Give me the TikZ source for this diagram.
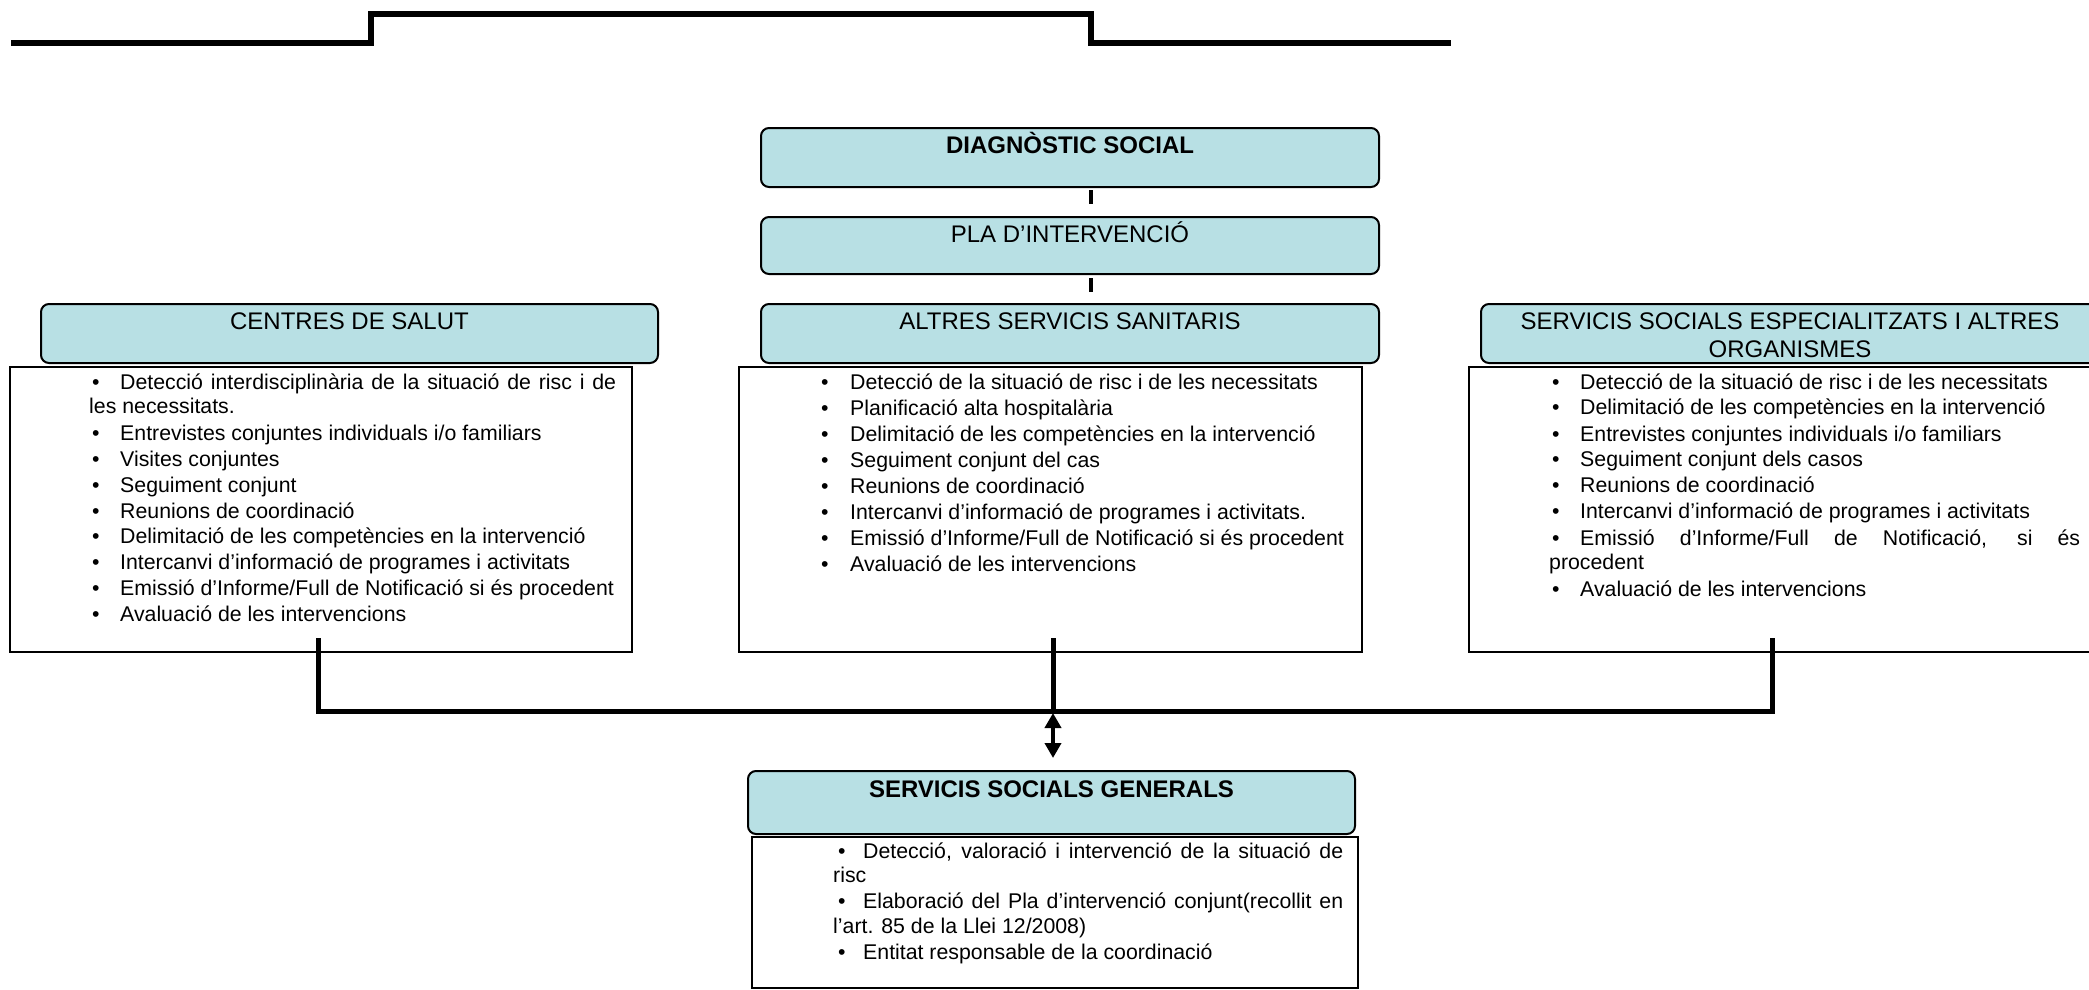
\documentclass[tikz,border=0pt]{standalone}
\usepackage{fontspec}
\setmainfont{Liberation Sans}
\usetikzlibrary{arrows.meta}
\definecolor{hdrfill}{RGB}{184,224,228}
\begin{document}
\begin{tikzpicture}[x=1pt,y=-1pt,
  hbox/.style={draw=black, line width=2pt, fill=hdrfill, rounded corners=8pt, inner sep=0pt},
  cbox/.style={draw=black, line width=2.5pt, inner sep=0pt},
  htxt/.style={anchor=base, inner sep=0pt, font=\fontsize{24}{28}\selectfont},
  itm/.style={anchor=base west, inner sep=0pt, font=\fontsize{21.3}{26}\selectfont},
  conn/.style={line width=5pt},
  stubline/.style={line width=4pt},
  topline/.style={line width=5.5pt, line join=miter},
  dblarrow/.style={line width=4pt, {Triangle[width=16pt,length=15pt]}-{Triangle[width=16pt,length=15pt]}}
]
\clip (0,0) rectangle (2089,990);
\fill[white] (0,0) rectangle (2089,990);

% top decorative line
\draw[topline] (11,43) -- (371,43) -- (371,14) -- (1091,14) -- (1091,43) -- (1451,43);

% top chain
\node[hbox, minimum width=618, minimum height=59] (diag) at (1070,157.5) {};
\node[htxt, font=\fontsize{24}{28}\selectfont\bfseries] (diagt) at (1070,153) {DIAGNÒSTIC SOCIAL};
\node[hbox, minimum width=618, minimum height=57] (pla) at (1070,245.5) {};
\node[htxt] (plat) at (1070,242) {PLA D’INTERVENCIÓ};
\coordinate (s1a) at (1091,190);
\coordinate (s1b) at (1091,204);
\coordinate (s2a) at (1091,278);
\coordinate (s2b) at (1091,292);
\draw[stubline] (s1a) -- (s1b);
\draw[stubline] (s2a) -- (s2b);

% header row
\node[hbox, minimum width=617, minimum height=59] (hcs) at (349.5,333.5) {};
\node[htxt] (hcst) at (349.5,329) {CENTRES DE SALUT};
\node[hbox, minimum width=618, minimum height=59] (has) at (1070,333.5) {};
\node[htxt] (hast) at (1070,329) {ALTRES SERVICIS SANITARIS};
\node[hbox, minimum width=618, minimum height=59] (hse) at (1790,333.5) {};
\node[htxt] (hset1) at (1790,329) {SERVICIS SOCIALS ESPECIALITZATS I ALTRES};
\node[htxt] (hset2) at (1790,357) {ORGANISMES};

% content boxes
\node[cbox, minimum width=622, minimum height=285] (c1) at (321,509.5) {};
\node[cbox, minimum width=623, minimum height=285] (c2) at (1050.5,509.5) {};
\node[cbox, minimum width=623, minimum height=285] (c3) at (1780.5,509.5) {};

% c1 items
\node[itm] (c1b1) at (92,389) {•};
\node[itm] (c1t1) at (120,389) {\makebox[496pt][s]{Detecció interdisciplinària de la situació de risc i de}};
\node[itm] (c1t1b) at (89,413) {les necessitats.};
\node[itm] (c1b2) at (92,440) {•};
\node[itm] (c1t2) at (120,440) {Entrevistes conjuntes individuals i/o familiars};
\node[itm] (c1b3) at (92,466) {•};
\node[itm] (c1t3) at (120,466) {Visites conjuntes};
\node[itm] (c1b4) at (92,492) {•};
\node[itm] (c1t4) at (120,492) {Seguiment conjunt};
\node[itm] (c1b5) at (92,518) {•};
\node[itm] (c1t5) at (120,518) {Reunions de coordinació};
\node[itm] (c1b6) at (92,543) {•};
\node[itm] (c1t6) at (120,543) {Delimitació de les competències en la intervenció};
\node[itm] (c1b7) at (92,569) {•};
\node[itm] (c1t7) at (120,569) {Intercanvi d’informació de programes i activitats};
\node[itm] (c1b8) at (92,595) {•};
\node[itm] (c1t8) at (120,595) {Emissió d’Informe/Full de Notificació si és procedent};
\node[itm] (c1b9) at (92,621) {•};
\node[itm] (c1t9) at (120,621) {Avaluació de les intervencions};

% c2 items
\node[itm] (c2b1) at (821,389) {•};
\node[itm] (c2t1) at (850,389) {Detecció de la situació de risc i de les necessitats};
\node[itm] (c2b2) at (821,415) {•};
\node[itm] (c2t2) at (850,415) {Planificació alta hospitalària};
\node[itm] (c2b3) at (821,441) {•};
\node[itm] (c2t3) at (850,441) {Delimitació de les competències en la intervenció};
\node[itm] (c2b4) at (821,467) {•};
\node[itm] (c2t4) at (850,467) {Seguiment conjunt del cas};
\node[itm] (c2b5) at (821,493) {•};
\node[itm] (c2t5) at (850,493) {Reunions de coordinació};
\node[itm] (c2b6) at (821,519) {•};
\node[itm] (c2t6) at (850,519) {Intercanvi d’informació de programes i activitats.};
\node[itm] (c2b7) at (821,545) {•};
\node[itm] (c2t7) at (850,545) {Emissió d’Informe/Full de Notificació si és procedent};
\node[itm] (c2b8) at (821,571) {•};
\node[itm] (c2t8) at (850,571) {Avaluació de les intervencions};

% c3 items
\node[itm] (c3b1) at (1552,389) {•};
\node[itm] (c3t1) at (1580,389) {Detecció de la situació de risc i de les necessitats};
\node[itm] (c3b2) at (1552,414) {•};
\node[itm] (c3t2) at (1580,414) {Delimitació de les competències en la intervenció};
\node[itm] (c3b3) at (1552,441) {•};
\node[itm] (c3t3) at (1580,441) {Entrevistes conjuntes individuals i/o familiars};
\node[itm] (c3b4) at (1552,466) {•};
\node[itm] (c3t4) at (1580,466) {Seguiment conjunt dels casos};
\node[itm] (c3b5) at (1552,492) {•};
\node[itm] (c3t5) at (1580,492) {Reunions de coordinació};
\node[itm] (c3b6) at (1552,518) {•};
\node[itm] (c3t6) at (1580,518) {Intercanvi d’informació de programes i activitats};
\node[itm] (c3b7) at (1552,545) {•};
\node[itm] (c3t7) at (1580,545) {\makebox[500pt][s]{Emissió d’Informe/Full de Notificació, si és}};
\node[itm] (c3t7b) at (1549,569) {procedent};
\node[itm] (c3b8) at (1552,596) {•};
\node[itm] (c3t8) at (1580,596) {Avaluació de les intervencions};

% connectors to the general services
\coordinate (c1s) at (318,638);
\coordinate (c2s) at (1053,638);
\coordinate (c3s) at (1772,638);
\coordinate (j1) at (318,711);
\coordinate (j2) at (1053,711);
\coordinate (j3) at (1772,711);
\draw[conn] (c1s) -- (j1);
\draw[conn] (c2s) -- (j2);
\draw[conn] (c3s) -- (j3);
\draw[conn, line cap=rect] (j1) -- (j3);
\coordinate (a1) at (1053,713);
\coordinate (a2) at (1053,758);
\draw[dblarrow] (a1) -- (a2);

% bottom
\node[hbox, minimum width=607, minimum height=63] (hsg) at (1051.5,802.5) {};
\node[htxt, font=\fontsize{24}{28}\selectfont\bfseries] (hsgt) at (1051.5,797) {SERVICIS SOCIALS GENERALS};
\node[cbox, minimum width=606, minimum height=151] (c4) at (1055,912.5) {};
\node[itm] (c4b1) at (838,858) {•};
\node[itm] (c4t1) at (863,858) {\makebox[480pt][s]{Detecció, valoració i intervenció de la situació de}};
\node[itm] (c4t1b) at (833,882) {risc};
\node[itm] (c4b2) at (838,908) {•};
\node[itm] (c4t2) at (863,908) {\makebox[480pt][s]{Elaboració del Pla d’intervenció conjunt(recollit en}};
\node[itm] (c4t2b) at (833,933) {l’art. 85 de la Llei 12/2008)};
\node[itm] (c4b3) at (838,959) {•};
\node[itm] (c4t3) at (863,959) {Entitat responsable de la coordinació};
\end{tikzpicture}
\end{document}
